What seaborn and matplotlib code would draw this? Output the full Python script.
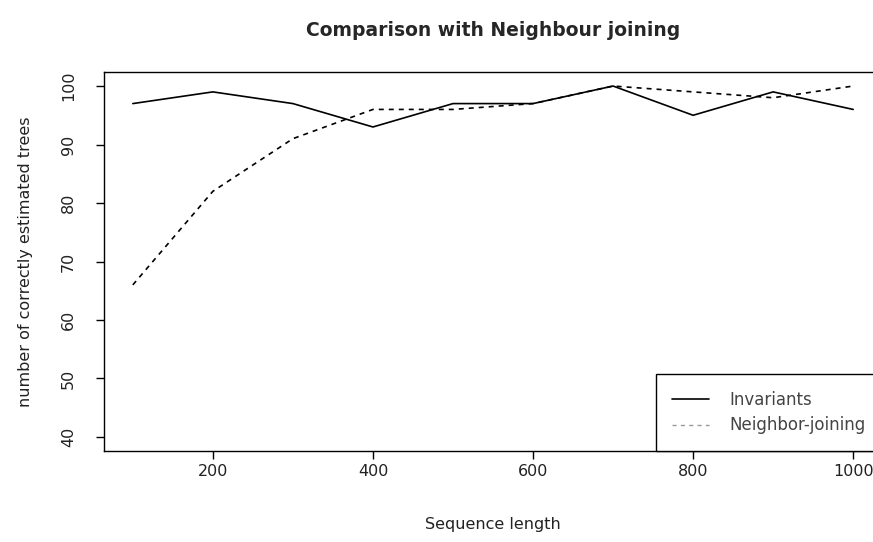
import matplotlib
matplotlib.use("Agg")
import matplotlib.pyplot as plt
from matplotlib.lines import Line2D
import seaborn as sns
import pandas as pd

# Sequence lengths and number of correctly estimated trees per method
seq_length = [100, 200, 300, 400, 500, 600, 700, 800, 900, 1000]
invariants = [97, 99, 97, 93, 97, 97, 100, 95, 99, 96]
neighbor_joining = [66, 82, 91, 96, 96, 97, 100, 99, 98, 100]
method_names = ["Invariants", "Neighbor-joining"]
x_ticks = [200, 400, 600, 800, 1000]
y_ticks = [40, 50, 60, 70, 80, 90, 100]

df = pd.DataFrame({
    "Sequence length": seq_length * 2,
    "correct": invariants + neighbor_joining,
    "method": [method_names[0]] * len(seq_length) + [method_names[1]] * len(seq_length),
})

sns.set_style("ticks")
plt.rcParams["font.family"] = ["DejaVu Sans"]

fig = plt.figure(figsize=(8.73, 5.42), dpi=100)
W, H = 873, 542
left, right, top, bottom = 104, 882, 72, 451
ax = fig.add_axes([left / W, 1 - bottom / H, (right - left) / W, (bottom - top) / H])

sns.lineplot(
    data=df, x="Sequence length", y="correct", style="method",
    dashes={method_names[0]: "", method_names[1]: (3, 3)},
    color="black", linewidth=1.2, ax=ax, legend=False,
)

# R-style 4% padding around the data range
ax.set_xlim(64, 1036)
ax.set_ylim(37.6, 102.4)
ax.set_xticks(x_ticks)
ax.set_yticks(y_ticks)
ax.set_yticklabels([str(v) for v in y_ticks], rotation=90, va="center")
ax.tick_params(axis="both", direction="out", length=6, width=1, color="black",
               labelsize=11.5, labelcolor="#222222")
ax.tick_params(axis="x", pad=3)
ax.tick_params(axis="y", pad=14)
for s in ax.spines.values():
    s.set_visible(True)
    s.set_color("black")
    s.set_linewidth(1)

ax.set_xlabel("Sequence length", fontsize=11.5, color="#222222", labelpad=28)
ax.set_ylabel("number of correctly estimated trees", fontsize=11.5, color="#222222", labelpad=20)
ax.set_title("Comparison with Neighbour joining", fontsize=13.5, fontweight="bold", pad=26)

handles = [
    Line2D([], [], color="black", linewidth=1.2),
    Line2D([], [], color="#999999", linewidth=1.0, dashes=(3, 3)),
]
leg = ax.legend(handles, method_names, loc="lower right", borderaxespad=0,
                fancybox=False, framealpha=1, edgecolor="black", fontsize=12,
                handlelength=2.2, handletextpad=1.2, borderpad=1.0, labelspacing=0.45)
leg.get_frame().set_linewidth(1)
for t in leg.get_texts():
    t.set_color("#444444")

fig.savefig("out.png", dpi=100)
